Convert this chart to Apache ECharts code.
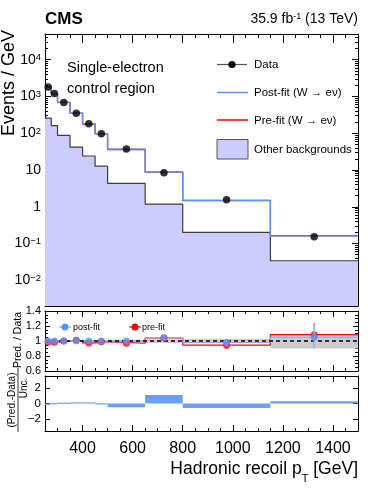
<!DOCTYPE html>
<html>
<head>
<meta charset="utf-8">
<script src="https://cdn.jsdelivr.net/npm/echarts@6/dist/echarts.min.js"></script>
<style>
html, body { margin: 0; padding: 0; background: #fff; }
#chart { width: 382px; height: 495px; }
</style>
</head>
<body>
<div id="chart"></div>
<script>
// 分箱边界 (GeV)
const binEdges = [250, 275, 300, 350, 400, 450, 500, 650, 800, 1150, 1500];
const binCenters = [262.5, 287.5, 325, 375, 425, 475, 575, 725, 975, 1325];
// 主图: Events / GeV
const dataVals = [1820, 1200, 690, 350, 180, 97, 37, 8.4, 1.54, 0.152];
const postFit = [1820, 1200, 690, 352, 180, 97, 37, 8.8, 1.51, 0.16];
const preFit = [1795, 1182, 690, 354, 175, 96, 36, 8.7, 1.46, 0.165];
const otherBkg = [256, 162, 87, 42, 24, 12.7, 4.35, 1.18, 0.2, 0.034];
// 比值 Pred. / Data
const ratioPost = [1.0, 1.0, 1.0, 1.005, 1.0, 1.0, 1.0, 1.045, 0.98, 1.05];
const ratioPre = [0.985, 0.985, 1.0, 1.01, 0.975, 0.99, 0.97, 1.04, 0.945, 1.085];
const ratioErr = [0.004, 0.005, 0.006, 0.008, 0.012, 0.015, 0.02, 0.035, 0.05, 0.155];
const bandLo = [0.992, 0.992, 0.99, 0.99, 0.988, 0.985, 0.98, 0.975, 0.97, 0.9];
const bandHi = [1.008, 1.008, 1.01, 1.01, 1.012, 1.015, 1.02, 1.025, 1.03, 1.095];
// (Pred.-Data)/Unc.
const pulls = [-0.15, -0.05, 0.05, 0.15, 0.15, -0.1, -0.5, 1.1, -0.6, 0.3];
// 刻度
const xTicks = [400, 600, 800, 1000, 1200, 1400];
const pullTicks = [-2, 0, 2];
const yMin = 0.002, yMax = 50000;

// 对数轴次刻度位置 (2..9 x 10^n), 放在一个辅助的线性轴上
const logMinor = [];
for (let n = -3; n <= 4; n++) {
    for (let k = 2; k <= 9; k++) {
        const v = k * Math.pow(10, n);
        if (v > yMin && v < yMax) logMinor.push(Math.log10(v));
    }
}

const FONT = 'Liberation Sans, Arial, Helvetica, sans-serif';
const BLUE = '#5f93f3';
const BLUE_LIGHT = '#86a8f3';
const RED = '#ff0000';

// 直方图的阶梯数据: 每个箱左边界 + 最后的右边界
const stepData = vals => {
    const d = vals.map((v, i) => [binEdges[i], v]);
    d.push([binEdges[binEdges.length - 1], vals[vals.length - 1]]);
    return d;
};

// x轴: 主刻度 + 次刻度(每50GeV), 上下各一份
const xAxes = (g, majorLen, minorLen, labels) => {
    const base = {
        type: 'value', gridIndex: g, min: 250, max: 1500,
        splitLine: { show: false }
    };
    const major = pos => Object.assign({}, base, {
        position: pos,
        axisLine: { show: true, onZero: false, lineStyle: { color: '#000', width: 1 } },
        axisTick: { show: true, inside: true, length: majorLen, customValues: xTicks, lineStyle: { color: '#000' } },
        axisLabel: pos === 'bottom' && labels ? {
            show: true, customValues: xTicks, margin: 10, formatter: v => String(v),
            fontFamily: FONT, fontSize: 16, color: '#000'
        } : { show: false }
    });
    const minor = pos => Object.assign({}, base, {
        position: pos, interval: 50,
        axisLine: { show: false, onZero: false },
        axisTick: { show: true, inside: true, length: minorLen, lineStyle: { color: '#000' } },
        axisLabel: { show: false }
    });
    return [major('bottom'), minor('bottom'), major('top'), minor('top')];
};

const supRich = { s: { fontFamily: FONT, fontSize: 9.5, verticalAlign: 'top', lineHeight: 9, color: '#000' } };

const logLabel = v => {
    const l = Math.log10(v);
    const e = Math.round(l);
    if (Math.abs(l - e) > 1e-6) return '';
    if (e === 0) return '1';
    if (e === 1) return '10';
    return '10{s|' + (e < 0 ? '\u2212' + (-e) : e) + '}';
};

const mainY = pos => ({
    type: 'log', gridIndex: 0, position: pos, min: yMin, max: yMax, logBase: 10,
    splitLine: { show: false },
    axisLine: { show: true, onZero: false, lineStyle: { color: '#000' } },
    axisTick: { show: true, inside: true, length: 6, lineStyle: { color: '#000' } },
    axisLabel: pos === 'left' ? {
        show: true, formatter: logLabel, margin: 4,
        fontFamily: FONT, fontSize: 14, color: '#000', rich: supRich
    } : { show: false }
});

// 辅助轴: 只画对数次刻度
const minorY = pos => ({
    type: 'value', gridIndex: 0, position: pos, min: Math.log10(yMin), max: Math.log10(yMax),
    splitLine: { show: false },
    axisLine: { show: false, onZero: false },
    axisTick: { show: true, inside: true, length: 3, customValues: logMinor, lineStyle: { color: '#000' } },
    axisLabel: { show: false }
});

const ratioY = pos => ({
    type: 'value', gridIndex: 1, position: pos, min: 0.6, max: 1.4, interval: 0.2,
    splitLine: { show: false },
    axisLine: { show: true, onZero: false, lineStyle: { color: '#000' } },
    axisTick: { show: true, inside: true, length: 5, lineStyle: { color: '#000' } },
    minorTick: { show: true, splitNumber: 4, length: 3, lineStyle: { color: '#000' } },
    axisLabel: pos === 'left' ? {
        show: true, margin: 4, formatter: v => String(+v.toFixed(1)),
        fontFamily: FONT, fontSize: 11, color: '#000'
    } : { show: false }
});

const pullY = pos => ({
    type: 'value', gridIndex: 2, position: pos, min: -3.6, max: 3.6,
    splitLine: { show: false },
    axisLine: { show: true, onZero: false, lineStyle: { color: '#000' } },
    axisTick: { show: true, inside: true, length: 5, customValues: pullTicks, lineStyle: { color: '#000' } },
    axisLabel: pos === 'left' ? {
        show: true, margin: 4, customValues: pullTicks,
        formatter: v => (v < 0 ? '\u2212' + (-v) : String(v)),
        fontFamily: FONT, fontSize: 11.5, color: '#000'
    } : { show: false }
});

// 自定义系列: 矩形 (不确定带 / pull柱)
const rectItem = fill => (params, api) => {
    const p0 = api.coord([api.value(0), api.value(2)]);
    const p1 = api.coord([api.value(1), api.value(3)]);
    let y = Math.min(p0[1], p1[1]);
    let h = Math.abs(p1[1] - p0[1]);
    if (h < 1.2) { y -= (1.2 - h) / 2; h = 1.2; }
    return {
        type: 'rect',
        shape: { x: p0[0], y: y, width: p1[0] - p0[0], height: h },
        style: { fill: fill }
    };
};

// 误差棒
const errItem = color => (params, api) => {
    const a = api.coord([api.value(0), api.value(1)]);
    const b = api.coord([api.value(0), api.value(2)]);
    return {
        type: 'line',
        shape: { x1: a[0], y1: a[1], x2: b[0], y2: b[1] },
        style: { stroke: color, lineWidth: 1.5 }
    };
};

const bandData = binCenters.map((c, i) => [binEdges[i], binEdges[i + 1], bandLo[i], bandHi[i]]);
const pullData = pulls.map((p, i) => [binEdges[i], binEdges[i + 1], 0, p]);
const errData = (vals, errs) => vals.map((v, i) => [binCenters[i], v - errs[i], v + errs[i]]);

const txt = (text, x, y, size, extra) => ({
    type: 'text', x: x, y: y, rotation: (extra && extra.rotation) || 0,
    style: Object.assign({
        text: text, fontFamily: FONT, fontSize: size, fill: '#000',
        align: 'left', verticalAlign: 'middle'
    }, (extra && extra.style) || {})
});

var myChart = echarts.init(document.getElementById('chart'), null, { renderer: 'canvas' });

var option = {
    animation: false,
    backgroundColor: '#fff',
    grid: [
        { left: 45, top: 34, width: 313, height: 272, containLabel: false, outerBoundsMode: 'none' },
        { left: 45, top: 311, width: 313, height: 60, containLabel: false, outerBoundsMode: 'none' },
        { left: 45, top: 376, width: 313, height: 55, containLabel: false, outerBoundsMode: 'none' }
    ],
    xAxis: [].concat(xAxes(0, 9, 4, false), xAxes(1, 6, 3, false), xAxes(2, 6, 3, true)),
    yAxis: [mainY('left'), mainY('right'), ratioY('left'), ratioY('right'), pullY('left'), pullY('right'),
        minorY('left'), minorY('right')],
    series: [
        // 主图
        {
            name: 'Other backgrounds', type: 'line', step: 'end', xAxisIndex: 0, yAxisIndex: 0,
            data: stepData(otherBkg), symbol: 'none',
            lineStyle: { color: '#3c3c3c', width: 1.2 },
            areaStyle: { color: '#ccccff', opacity: 1 }, z: 1
        },
        {
            name: 'Pre-fit', type: 'line', step: 'end', xAxisIndex: 0, yAxisIndex: 0,
            data: stepData(preFit), symbol: 'none',
            lineStyle: { color: RED, width: 1.3 }, z: 2
        },
        {
            name: 'Post-fit', type: 'line', step: 'end', xAxisIndex: 0, yAxisIndex: 0,
            data: stepData(postFit), symbol: 'none',
            lineStyle: { color: BLUE, width: 1.5 }, z: 3
        },
        {
            name: 'Data', type: 'scatter', xAxisIndex: 0, yAxisIndex: 0,
            data: binCenters.map((c, i) => [c, dataVals[i]]),
            symbol: 'circle', symbolSize: 7.5, itemStyle: { color: '#000' }, z: 5
        },
        // 比值图
        {
            type: 'custom', xAxisIndex: 4, yAxisIndex: 2, renderItem: rectItem('#cccccc'),
            data: bandData, encode: { x: [0, 1], y: [2, 3] }, clip: true, z: 1,
            markLine: {
                silent: true, symbol: 'none', label: { show: false },
                lineStyle: { color: '#000', type: [4, 3], width: 1.5 },
                data: [{ yAxis: 1 }]
            }
        },
        {
            type: 'line', step: 'end', xAxisIndex: 4, yAxisIndex: 2, data: stepData(ratioPre),
            symbol: 'none', lineStyle: { color: RED, width: 1.2 }, z: 2
        },
        {
            type: 'line', step: 'end', xAxisIndex: 4, yAxisIndex: 2, data: stepData(ratioPost),
            symbol: 'none', lineStyle: { color: BLUE_LIGHT, width: 1.2 }, z: 3
        },
        {
            type: 'custom', xAxisIndex: 4, yAxisIndex: 2, renderItem: errItem('#ff6b6b'),
            data: errData(ratioPre, ratioErr), encode: { x: 0, y: [1, 2] }, z: 4
        },
        {
            type: 'scatter', xAxisIndex: 4, yAxisIndex: 2,
            data: binCenters.map((c, i) => [c, ratioPre[i]]),
            symbolSize: 7, itemStyle: { color: RED }, z: 5
        },
        {
            type: 'custom', xAxisIndex: 4, yAxisIndex: 2, renderItem: errItem('#9db9f5'),
            data: errData(ratioPost, ratioErr), encode: { x: 0, y: [1, 2] }, z: 6
        },
        {
            type: 'scatter', xAxisIndex: 4, yAxisIndex: 2,
            data: binCenters.map((c, i) => [c, ratioPost[i]]),
            symbolSize: 7, itemStyle: { color: BLUE }, z: 7
        },
        // pull 图
        {
            type: 'custom', xAxisIndex: 8, yAxisIndex: 4, renderItem: rectItem('#6b9ef6'),
            data: pullData, encode: { x: [0, 1], y: [2, 3] }, clip: true, z: 2
        }
    ],
    graphic: [
        // 标题
        txt('CMS', 45, 19, 17, { style: { fontWeight: 'bold' } }),
        txt('35.9 fb{s|-1} (13 TeV)', 358, 19, 14, {
            style: {
                align: 'right',
                rich: { s: { fontFamily: FONT, fontSize: 9, verticalAlign: 'top', lineHeight: 8 } }
            }
        }),
        txt('Single-electron', 67, 68, 14.5),
        txt('control region', 67, 89, 14.5),
        // 轴标题
        txt('Events / GeV', 9, 83, 18, { rotation: Math.PI / 2, style: { align: 'center' } }),
        txt('Pred. / Data', 18.5, 340, 10.5, { rotation: Math.PI / 2, style: { align: 'center' } }),
        txt('(Pred.-Data)', 12, 400, 10, { rotation: Math.PI / 2, style: { align: 'center' } }),
        { type: 'line', shape: { x1: 18, y1: 368, x2: 18, y2: 432 }, style: { stroke: '#000', lineWidth: 0.8 } },
        txt('Unc.', 24, 388, 10, { rotation: Math.PI / 2, style: { align: 'center' } }),
        txt('Hadronic recoil p{sub|T} [GeV]', 358, 469, 17.5, {
            style: {
                align: 'right',
                rich: { sub: { fontFamily: FONT, fontSize: 11, verticalAlign: 'bottom', lineHeight: 10, padding: [0, 0, -6, 0] } }
            }
        }),
        // 主图图例
        { type: 'line', shape: { x1: 217, y1: 64.5, x2: 247, y2: 64.5 }, style: { stroke: '#555', lineWidth: 1.2 } },
        { type: 'circle', shape: { cx: 232, cy: 64.5, r: 3.6 }, style: { fill: '#000' } },
        txt('Data', 254, 65, 11.5),
        { type: 'line', shape: { x1: 217, y1: 92.5, x2: 248, y2: 92.5 }, style: { stroke: BLUE, lineWidth: 1.5 } },
        txt('Post-fit (W \u2192 e\u03bd)', 254, 93, 11.5),
        { type: 'line', shape: { x1: 217, y1: 120, x2: 248, y2: 120 }, style: { stroke: RED, lineWidth: 1.5 } },
        txt('Pre-fit (W \u2192 e\u03bd)', 254, 121, 11.5),
        { type: 'rect', shape: { x: 217, y: 139.5, width: 31, height: 19.5 }, style: { fill: '#ccccff', stroke: '#555', lineWidth: 1 } },
        txt('Other backgrounds', 254, 149.5, 11.5),
        // 比值图图例
        { type: 'line', shape: { x1: 59, y1: 327, x2: 71, y2: 327 }, style: { stroke: BLUE_LIGHT, lineWidth: 1.2 } },
        { type: 'circle', shape: { cx: 65, cy: 327, r: 3.5 }, style: { fill: BLUE } },
        txt('post-fit', 73, 327.5, 9),
        { type: 'line', shape: { x1: 129, y1: 327, x2: 141, y2: 327 }, style: { stroke: RED, lineWidth: 1.2 } },
        { type: 'circle', shape: { cx: 135, cy: 327, r: 3.5 }, style: { fill: RED } },
        txt('pre-fit', 142, 327.5, 9)
    ]
};

myChart.setOption(option);
</script>
</body>
</html>
